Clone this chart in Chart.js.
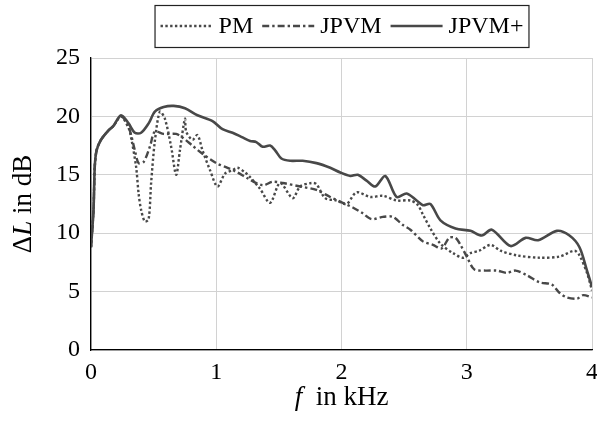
<!DOCTYPE html>
<html>
<head>
<meta charset="utf-8">
<script src="https://cdn.jsdelivr.net/npm/chart.js@4/dist/chart.umd.min.js"></script>
<style>
  html, body { margin: 0; padding: 0; background: #fff; }
  #wrap { width: 597px; height: 423px; }
</style>
</head>
<body>
<div id="wrap"><canvas id="chart" width="597" height="423"></canvas></div>
<script>
// PM (dotted)
const pmF = [0, 0.02, 0.03, 0.045, 0.08, 0.14, 0.18, 0.24, 0.30, 0.32, 0.36, 0.38, 0.40, 0.43, 0.46, 0.48, 0.51, 0.55, 0.59, 0.64, 0.68, 0.71, 0.75, 0.76, 0.81, 0.85, 0.89, 0.95, 1.01, 1.07, 1.13, 1.17, 1.23, 1.27, 1.35, 1.43, 1.51, 1.61, 1.67, 1.76, 1.80, 1.87, 1.96, 2.04, 2.12, 2.23, 2.33, 2.44, 2.55, 2.61, 2.65, 2.71, 2.79, 2.89, 2.97, 3.03, 3.10, 3.19, 3.27, 3.40, 3.58, 3.74, 3.86, 3.90, 3.96, 4.0];
const pmL = [8.8, 12, 15.7, 17.1, 18.0, 18.8, 19.2, 20.0, 19.0, 18.2, 15.7, 13.4, 12.0, 11.0, 11.2, 14.3, 17.9, 20.4, 19.8, 17.4, 15.0, 17.1, 19.8, 18.7, 18.0, 18.4, 17.1, 15.4, 14.0, 15.1, 15.4, 15.6, 15.2, 14.8, 13.8, 12.6, 14.3, 13.0, 14.0, 14.3, 14.2, 13.0, 12.8, 12.5, 13.5, 13.1, 13.2, 12.8, 12.8, 12.4, 11.6, 10.4, 9.1, 8.3, 7.9, 8.3, 8.5, 9.0, 8.5, 8.1, 7.9, 8.0, 8.5, 8.1, 6.6, 5.1];

// JPVM (dash-dot)
const jpvmF = [0, 0.02, 0.03, 0.045, 0.08, 0.14, 0.18, 0.24, 0.30, 0.35, 0.38, 0.42, 0.47, 0.51, 0.58, 0.68, 0.73, 0.81, 0.89, 1.0, 1.09, 1.17, 1.25, 1.37, 1.45, 1.53, 1.67, 1.80, 1.91, 2.01, 2.09, 2.17, 2.24, 2.33, 2.41, 2.49, 2.55, 2.65, 2.73, 2.80, 2.86, 2.91, 2.95, 3.0, 3.06, 3.15, 3.24, 3.32, 3.39, 3.48, 3.58, 3.68, 3.74, 3.80, 3.88, 3.93, 4.0];
const jpvmL = [8.8, 12, 15.7, 17.1, 18.0, 18.8, 19.2, 20.0, 19.1, 17.1, 16.0, 16.1, 17.4, 18.7, 18.5, 18.5, 18.2, 17.5, 16.8, 16.0, 15.6, 15.2, 14.7, 14.1, 14.4, 14.3, 14.0, 13.7, 13.1, 12.6, 12.2, 11.7, 11.2, 11.4, 11.4, 10.7, 10.3, 9.3, 9.0, 8.7, 9.6, 9.6, 9.0, 8.0, 6.9, 6.8, 6.8, 6.6, 6.8, 6.4, 5.8, 5.6, 4.9, 4.5, 4.4, 4.7, 4.5];

// JPVM+ (solid)
const plusF = [0, 0.02, 0.03, 0.045, 0.08, 0.14, 0.18, 0.24, 0.30, 0.35, 0.40, 0.46, 0.51, 0.58, 0.66, 0.75, 0.85, 0.97, 1.05, 1.13, 1.21, 1.27, 1.32, 1.37, 1.43, 1.47, 1.52, 1.59, 1.69, 1.80, 1.91, 1.99, 2.07, 2.13, 2.20, 2.27, 2.35, 2.44, 2.52, 2.60, 2.65, 2.71, 2.79, 2.91, 3.03, 3.12, 3.20, 3.35, 3.47, 3.57, 3.72, 3.82, 3.90, 3.96, 4.0];
const plusL = [8.8, 12, 15.7, 17.1, 18.0, 18.8, 19.2, 20.1, 19.4, 18.6, 18.6, 19.4, 20.4, 20.8, 20.9, 20.7, 20.1, 19.6, 18.9, 18.6, 18.2, 17.9, 17.8, 17.4, 17.5, 17.1, 16.4, 16.2, 16.2, 16.0, 15.6, 15.2, 14.9, 15.0, 14.5, 14.0, 14.9, 13.1, 13.4, 12.8, 12.4, 12.5, 11.1, 10.4, 10.2, 9.8, 10.3, 8.9, 9.6, 9.4, 10.2, 9.8, 8.8, 6.8, 5.4];

const xTicks = [0, 1, 2, 3, 4];
const yTicks = [0, 5, 10, 15, 20, 25];

const serif = '"Liberation Serif", "DejaVu Serif", serif';
const lineColor = '#484848';
const pts = (fs, ls) => fs.map((f, i) => ({ x: f, y: ls[i] }));

// axis titles and boxed legend drawn by hand, pgfplots style
const decor = {
  id: 'decor',
  afterDraw(chart) {
    const ctx = chart.ctx;
    const a = chart.chartArea;
    ctx.save();
    ctx.fillStyle = '#000';
    ctx.textBaseline = 'middle';

    // mixed roman/italic text helper
    function mixed(parts, cx, cy) {
      let w = 0;
      parts.forEach(p => { ctx.font = (p[1] ? 'italic ' : '') + '27px ' + serif; w += ctx.measureText(p[0]).width; });
      let x = cx - w / 2;
      ctx.textAlign = 'left';
      parts.forEach(p => {
        ctx.font = (p[1] ? 'italic ' : '') + '27px ' + serif;
        ctx.fillText(p[0], x, cy);
        x += ctx.measureText(p[0]).width;
      });
    }
    mixed([['f', true], ['  in kHz', false]], (a.left + a.right) / 2, 398);
    ctx.save();
    ctx.translate(24, (a.top + a.bottom) / 2);
    ctx.rotate(-Math.PI / 2);
    mixed([['Δ', false], ['L', true], [' in dB', false]], 0, 0);
    ctx.restore();

    // legend
    ctx.font = '24px ' + serif;
    const sw = 52, gap = 6, itemGap = 9;
    const items = chart.data.datasets;
    let total = 0;
    items.forEach((d, i) => { total += sw + gap + ctx.measureText(d.label).width + (i < items.length - 1 ? itemGap : 0); });
    let x = 342 - total / 2;
    const ly = 26;
    ctx.strokeStyle = '#222';
    ctx.lineWidth = 1.2;
    ctx.setLineDash([]);
    ctx.strokeRect(x - 5.5, 5.5, total + 11, 42);
    items.forEach(d => {
      ctx.strokeStyle = d.borderColor;
      ctx.lineWidth = d.borderWidth;
      ctx.setLineDash(d.borderDash || []);
      ctx.beginPath();
      ctx.moveTo(x, ly);
      ctx.lineTo(x + sw, ly);
      ctx.stroke();
      x += sw + gap;
      ctx.textAlign = 'left';
      ctx.fillText(d.label, x, ly + 1);
      x += ctx.measureText(d.label).width + itemGap;
    });
    ctx.restore();
  }
};

new Chart(document.getElementById('chart'), {
  type: 'line',
  data: {
    datasets: [
      { label: 'PM', data: pts(pmF, pmL), borderColor: lineColor, borderWidth: 2.4, borderDash: [2.4, 2.4], tension: 0.3, pointRadius: 0 },
      { label: 'JPVM', data: pts(jpvmF, jpvmL), borderColor: lineColor, borderWidth: 2.4, borderDash: [7, 3, 2.4, 3], tension: 0.3, pointRadius: 0 },
      { label: 'JPVM+', data: pts(plusF, plusL), borderColor: lineColor, borderWidth: 2.6, tension: 0.3, pointRadius: 0 },
    ],
  },
  options: {
    responsive: false,
    animation: false,
    layout: { padding: { top: 58, right: 5, left: 0, bottom: 0 } },
    plugins: { legend: { display: false }, tooltip: { enabled: false } },
    scales: {
      x: {
        type: 'linear', min: 0, max: 4,
        afterBuildTicks: s => { s.ticks = xTicks.map(v => ({ value: v })); },
        afterFit: s => { s.height = 73; s.paddingRight = 0; s.paddingLeft = 0; },
        ticks: { color: '#000', font: { family: serif, size: 24 }, padding: 8, maxRotation: 0 },
        grid: { color: '#d2d2d2', lineWidth: 1, drawTicks: false },
        border: { color: '#000', width: 1.3 },
      },
      y: {
        min: 0, max: 25,
        afterBuildTicks: s => { s.ticks = yTicks.map(v => ({ value: v })); },
        afterFit: s => { s.width = 91; s.paddingTop = 0; s.paddingBottom = 0; },
        ticks: { color: '#000', font: { family: serif, size: 24 }, padding: 11 },
        grid: { color: '#d2d2d2', lineWidth: 1, drawTicks: false },
        border: { color: '#000', width: 1.3 },
      },
    },
  },
  plugins: [decor],
});
</script>
</body>
</html>
